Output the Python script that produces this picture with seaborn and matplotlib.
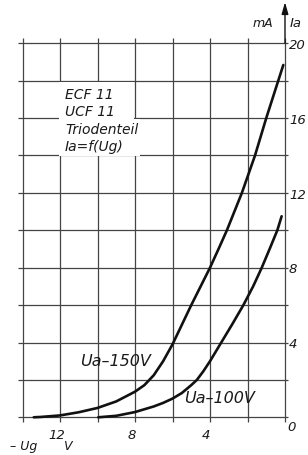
import matplotlib
matplotlib.use("Agg")
import matplotlib.pyplot as plt
import seaborn as sns
import pandas as pd
from matplotlib.patches import Rectangle

# ---------------- data ----------------
ug_150 = [13.4, 13.0, 12.0, 11.0, 10.0, 9.0, 8.0, 7.5, 7.0, 6.5, 6.0, 5.5, 5.0, 4.5, 4.0,
          3.5, 3.1, 2.7, 2.3, 1.95, 1.6, 1.3, 1.0, 0.68, 0.36, 0.09]
ia_150 = [0.0, 0.02, 0.1, 0.27, 0.5, 0.85, 1.37, 1.72, 2.25, 3.0, 3.9, 4.95, 6.0, 7.0, 8.0,
          9.1, 10.0, 11.0, 12.0, 13.0, 14.0, 15.0, 16.0, 17.0, 18.0, 18.84]

ug_100 = [9.96, 9.0, 8.0, 7.0, 6.5, 6.0, 5.5, 5.0, 4.7, 4.35, 4.0, 3.7, 3.4, 2.8, 2.22,
          1.7, 1.24, 0.8, 0.41, 0.18]
ia_100 = [0.0, 0.08, 0.28, 0.58, 0.77, 1.0, 1.3, 1.72, 2.0, 2.47, 3.0, 3.5, 4.0, 5.0, 6.0,
          7.0, 8.0, 9.05, 10.0, 10.75]

curve_names = ["Ua–150V", "Ua–100V"]
x_grid = [0, 2, 4, 6, 8, 10, 12, 14]
y_grid = [0, 2, 4, 6, 8, 10, 12, 14, 16, 18, 20]
x_tick_labels = [12, 8, 4]
y_tick_labels = [4, 8, 12, 16, 20]
title_lines = ["ECF 11", "UCF 11", "Triodenteil", "Ia=f(Ug)"]

# ---------------- style ----------------
sns.set_style("white")
plt.rcParams["font.family"] = ["DejaVu Sans"]

W, H = 308, 455
fig = plt.figure(figsize=(W / 100, H / 100), dpi=100)
fig.patch.set_facecolor("white")

x_lo, x_hi = 14.4, -0.2
y_lo, y_hi = -0.5, 22.3
sx, sy = 18.75, 18.7
x0px, y0px = 285.0, 417.3
left_px = x0px - x_lo * sx
right_px = x0px - x_hi * sx
top_px = y0px - y_hi * sy
bottom_px = y0px - y_lo * sy
ax = fig.add_axes([left_px / W, 1 - bottom_px / H,
                   (right_px - left_px) / W, (bottom_px - top_px) / H])
ax.set_xlim(x_lo, x_hi)
ax.set_ylim(y_lo, y_hi)
ax.axis("off")

grid_c = "#444444"
ax.hlines(y_grid, 14.25, -0.18, colors=grid_c, lw=0.9, zorder=1)
ax.vlines(x_grid, -0.27, 20.27, colors=grid_c, lw=0.9, zorder=1)

# axis arrow
ax.annotate("", xy=(0, 22.2), xytext=(0, 20.0),
            arrowprops=dict(arrowstyle="-|>,head_length=0.7,head_width=0.2",
                            color="#111111", lw=1.0, shrinkA=0, shrinkB=0),
            annotation_clip=False, zorder=3)

# blank area behind the type label
ax.add_patch(Rectangle((8.04, 13.97), 4.0, 3.95, facecolor="white",
                       edgecolor="none", zorder=2))
ax.add_patch(Rectangle((7.72, 13.97), 0.33, 1.98, facecolor="white",
                       edgecolor="none", zorder=2))

# curves
df = pd.DataFrame({
    "ug": ug_150 + ug_100,
    "ia": ia_150 + ia_100,
    "Ua": [curve_names[0]] * len(ug_150) + [curve_names[1]] * len(ug_100),
})
sns.lineplot(data=df, x="ug", y="ia", units="Ua", estimator=None, sort=False,
             color="#111111", lw=1.9, ax=ax, legend=False, zorder=3)

txt = dict(color="#1a1a1a", fontstyle="italic", zorder=4, clip_on=False)

ax.text(10.93, 2.96, curve_names[0], ha="left", va="center", fontsize=11.5, **txt)
ax.text(5.39, 1.0, curve_names[1], ha="left", va="center", fontsize=11.5, **txt)

for line, yy in zip(title_lines, [17.24, 16.34, 15.36, 14.47]):
    ax.text(11.73, yy, line, ha="left", va="center", fontsize=10, **txt)

for t in y_tick_labels:
    ax.text(-0.21, t - 0.12, str(t), ha="left", va="center", fontsize=9.5, **txt)
ax.text(-0.1, -0.55, "0", ha="left", va="center", fontsize=9.5, **txt)
for t in x_tick_labels:
    ax.text(t + 0.2, -0.95, str(t), ha="center", va="center", fontsize=9.5, **txt)

ax.text(1.72, 20.87, "mA", ha="left", va="baseline", fontsize=9, **txt)
ax.text(-0.27, 20.87, "Ia", ha="left", va="baseline", fontsize=9.5, **txt)
ax.text(14.67, -1.75, "– Ug", ha="left", va="baseline", fontsize=9, **txt)
ax.text(11.84, -1.75, "V", ha="left", va="baseline", fontsize=9, **txt)

fig.savefig("out.png", dpi=100, facecolor="white")
